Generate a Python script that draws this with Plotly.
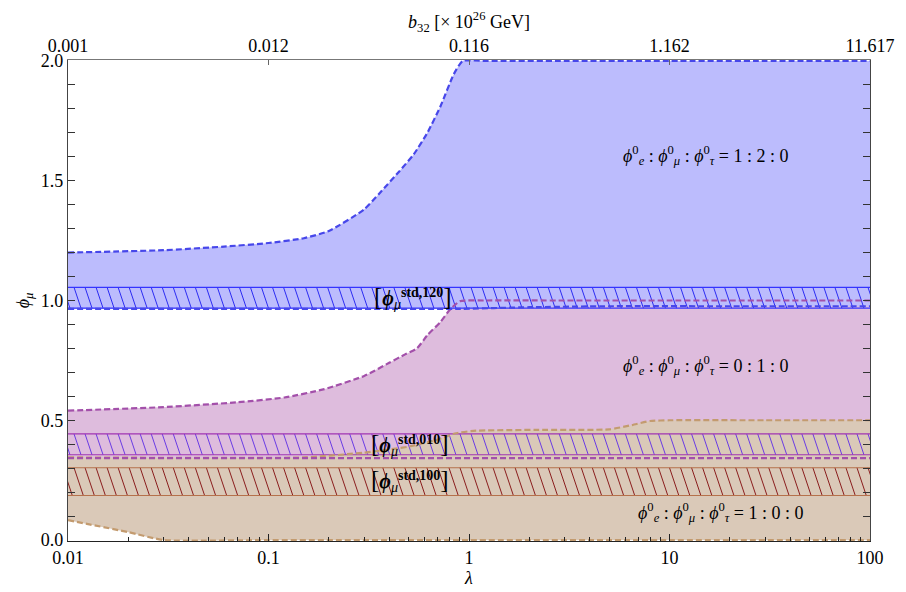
import numpy as np
import plotly.graph_objects as go

# ---------------- data ----------------
lam_blue_up = [0.01, 0.03, 0.06, 0.1, 0.15, 0.2, 0.3, 0.36, 0.45, 0.53, 0.62, 0.72, 0.84, 0.93, 1.2, 3, 10, 30, 100]
phi_blue_up = [1.20, 1.21, 1.225, 1.24, 1.26, 1.29, 1.38, 1.45, 1.54, 1.61, 1.70, 1.81, 1.945, 2.0, 2.0, 2.0, 2.0, 2.0, 2.0]
lam_blue_lo = [0.01, 0.1, 0.9, 2, 5, 20, 100]
phi_blue_lo = [0.965, 0.965, 0.965, 0.972, 0.976, 0.976, 0.976]

lam_purple_up = [0.01, 0.03, 0.07, 0.12, 0.19, 0.3, 0.4, 0.48, 0.55, 0.62, 0.72, 0.8, 0.9, 1.2, 3, 10, 30, 100]
phi_purple_up = [0.54, 0.555, 0.575, 0.595, 0.63, 0.685, 0.74, 0.775, 0.80, 0.855, 0.91, 0.96, 0.997, 1.0, 1.0, 1.0, 1.0, 1.0]
lam_purple_lo = [0.01, 100]
phi_purple_lo = [0.342, 0.342]

lam_brown_up = [0.01, 0.15, 0.3, 0.5, 0.7, 0.85, 1.05, 2.2, 5, 6.5, 8, 10, 30, 100]
phi_brown_up = [0.345, 0.345, 0.365, 0.39, 0.42, 0.445, 0.456, 0.46, 0.462, 0.48, 0.497, 0.5, 0.5, 0.5]
lam_brown_lo = [0.01, 0.02, 0.03, 0.1, 1, 10, 100]
phi_brown_lo = [0.083, 0.033, 0.0, 0.0, 0.0, 0.0, 0.0]

# hatched "std" bands (lower, upper)
band_120 = (0.968, 1.055)
band_010 = (0.356, 0.443)
band_100 = (0.186, 0.302)

x_ticks = [0.01, 0.1, 1, 10, 100]
x_ticktext = ["0.01", "0.1", "1", "10", "100"]
b32_ticktext = ["0.001", "0.012", "0.116", "1.162", "11.617"]
y_ticks = [0.0, 0.5, 1.0, 1.5, 2.0]

# ---------------- styles ----------------
FONT = "Liberation Serif"
C_BLUE_FILL, C_BLUE_LINE = "#bcbcfd", "#4747ea"
C_PUR_FILL, C_PUR_LINE = "#debcdd", "#a350aa"
C_BRN_FILL, C_BRN_LINE = "#dac9b8", "#c39b6f"
HATCH_STEP = 0.055   # decades between hatch lines
HATCH_SLANT = 0.40   # decades of shift per unit of phi
SMOOTH = 0.5
PHI = "ϕ"

fig = go.Figure()

def region(lam_lo, lo, lam_up, up, fill):
    fig.add_trace(go.Scatter(x=lam_lo, y=lo, mode="lines", line=dict(width=0, shape="spline", smoothing=SMOOTH),
                             hoverinfo="skip", showlegend=False))
    fig.add_trace(go.Scatter(x=lam_up, y=up, mode="lines", line=dict(width=0, shape="spline", smoothing=SMOOTH),
                             fill="tonexty", fillcolor=fill, hoverinfo="skip", showlegend=False))

region(lam_purple_lo, phi_purple_lo, lam_purple_up, phi_purple_up, C_PUR_FILL)
region(lam_brown_lo, phi_brown_lo, lam_brown_up, phi_brown_up, C_BRN_FILL)
region(lam_blue_lo, phi_blue_lo, lam_blue_up, phi_blue_up, C_BLUE_FILL)

def hatch(band, hcol, bcol):
    lo, hi = band
    xs, ys = [], []
    shift = HATCH_SLANT * (hi - lo)
    for x0 in np.arange(-2.3, 2.1, HATCH_STEP):
        xs += [10 ** x0, 10 ** (x0 + shift), None]
        ys += [hi, lo, None]
    fig.add_trace(go.Scatter(x=xs, y=ys, mode="lines", line=dict(color=hcol, width=1),
                             hoverinfo="skip", showlegend=False))
    for v in band:
        fig.add_trace(go.Scatter(x=[x_ticks[0], x_ticks[-1]], y=[v, v], mode="lines",
                                 line=dict(color=bcol, width=1.1), hoverinfo="skip", showlegend=False))

hatch(band_120, "#2b2bf2", "#3434ff")
hatch(band_010, "#6a3be4", "#a035b2")
hatch(band_100, "#8a1d1d", "#b5714b")

def dashed(x, y, col):
    fig.add_trace(go.Scatter(x=x, y=y, mode="lines",
                             line=dict(color=col, width=2.2, dash="6px,3px", shape="spline", smoothing=SMOOTH),
                             hoverinfo="skip", showlegend=False))

dashed(lam_brown_up, phi_brown_up, C_BRN_LINE)
dashed(lam_brown_lo, phi_brown_lo, C_BRN_LINE)
dashed(lam_purple_lo, phi_purple_lo, C_PUR_LINE)
dashed(lam_purple_up, phi_purple_up, C_PUR_LINE)
dashed(lam_blue_lo, phi_blue_lo, C_BLUE_LINE)
dashed(lam_blue_up, phi_blue_up, C_BLUE_LINE)

# dummy trace for the top axis
fig.add_trace(go.Scatter(x=x_ticks, y=[None] * len(x_ticks), xaxis="x2", mode="lines",
                         hoverinfo="skip", showlegend=False))

# ---------------- annotations ----------------
def std_label(tag):
    br = '<span style="font-size:25px">%s</span>'
    return (br % "[") + "<b><i>" + PHI + "</i></b><sub><i>μ</i></sub><sup><b>std," + tag + "</b></sup>" + (br % "]")

def ratio_label(a, b, c):
    return ("<i>{p}</i><sup>0</sup><sub><i>e</i></sub> : <i>{p}</i><sup>0</sup><sub><i>μ</i></sub> : "
            "<i>{p}</i><sup>0</sup><sub><i>τ</i></sub> = {a} : {b} : {c}").format(p=PHI, a=a, b=b, c=c)

ann = [
    dict(x=np.log10(0.526), y=1.012, text=std_label("120"), font=dict(size=20)),
    dict(x=np.log10(0.51), y=0.40, text=std_label("010"), font=dict(size=20)),
    dict(x=np.log10(0.51), y=0.248, text=std_label("100"), font=dict(size=20)),
    dict(x=np.log10(15.2), y=1.607, text=ratio_label(1, 2, 0), font=dict(size=18)),
    dict(x=np.log10(15.2), y=0.73, text=ratio_label(0, 1, 0), font=dict(size=18)),
    dict(x=np.log10(18), y=0.116, text=ratio_label(1, 0, 0), font=dict(size=18)),
]
for a in ann:
    a.update(xref="x", yref="y", showarrow=False, xanchor="center", yanchor="middle")
    a["font"].update(family=FONT, color="black")

minor_x = [m * 10.0 ** e for e in range(-2, 2) for m in range(2, 10)]

fig.update_layout(
    width=906, height=592,
    margin=dict(l=68, r=36, t=60, b=49),
    paper_bgcolor="white", plot_bgcolor="white",
    font=dict(family=FONT, size=18, color="black"),
    annotations=ann,
    xaxis=dict(type="log", range=[-2, 2], tickvals=x_ticks, ticktext=x_ticktext,
               ticks="inside", ticklen=7, tickcolor="#222", showgrid=False, zeroline=False,
               showline=True, linecolor="#222", linewidth=1.2, mirror=False,
               minor=dict(tickvals=minor_x, ticks="inside", ticklen=4, tickcolor="#222", showgrid=False),
               title=dict(text="<i>λ</i>", standoff=0, font=dict(size=18)),
               tickfont=dict(size=18)),
    xaxis2=dict(type="log", range=[-2, 2], overlaying="x", side="top", anchor="y",
                tickvals=x_ticks, ticktext=b32_ticktext, ticks="inside", ticklen=5, tickcolor="#666",
                showgrid=False, zeroline=False, showline=True, linecolor="#777", linewidth=1,
                title=dict(text="<i>b</i><sub>32</sub> [× 10<sup>26</sup> GeV]", standoff=2, font=dict(size=18)),
                tickfont=dict(size=18)),
    yaxis=dict(range=[-0.004, 2.004], tickvals=y_ticks, ticktext=["0.0", "0.5", "1.0", "1.5", "2.0"],
               ticks="inside", ticklen=7, tickcolor="#333", showgrid=False, zeroline=False,
               showline=True, linecolor="#444", linewidth=1.2, mirror="allticks",
               minor=dict(dtick=0.1, ticks="inside", ticklen=4, tickcolor="#333", showgrid=False),
               title=dict(text="<i>" + PHI + "</i><sub><i>μ</i></sub>", standoff=6, font=dict(size=18)),
               tickfont=dict(size=18)),
)

fig.write_html("out.html")
